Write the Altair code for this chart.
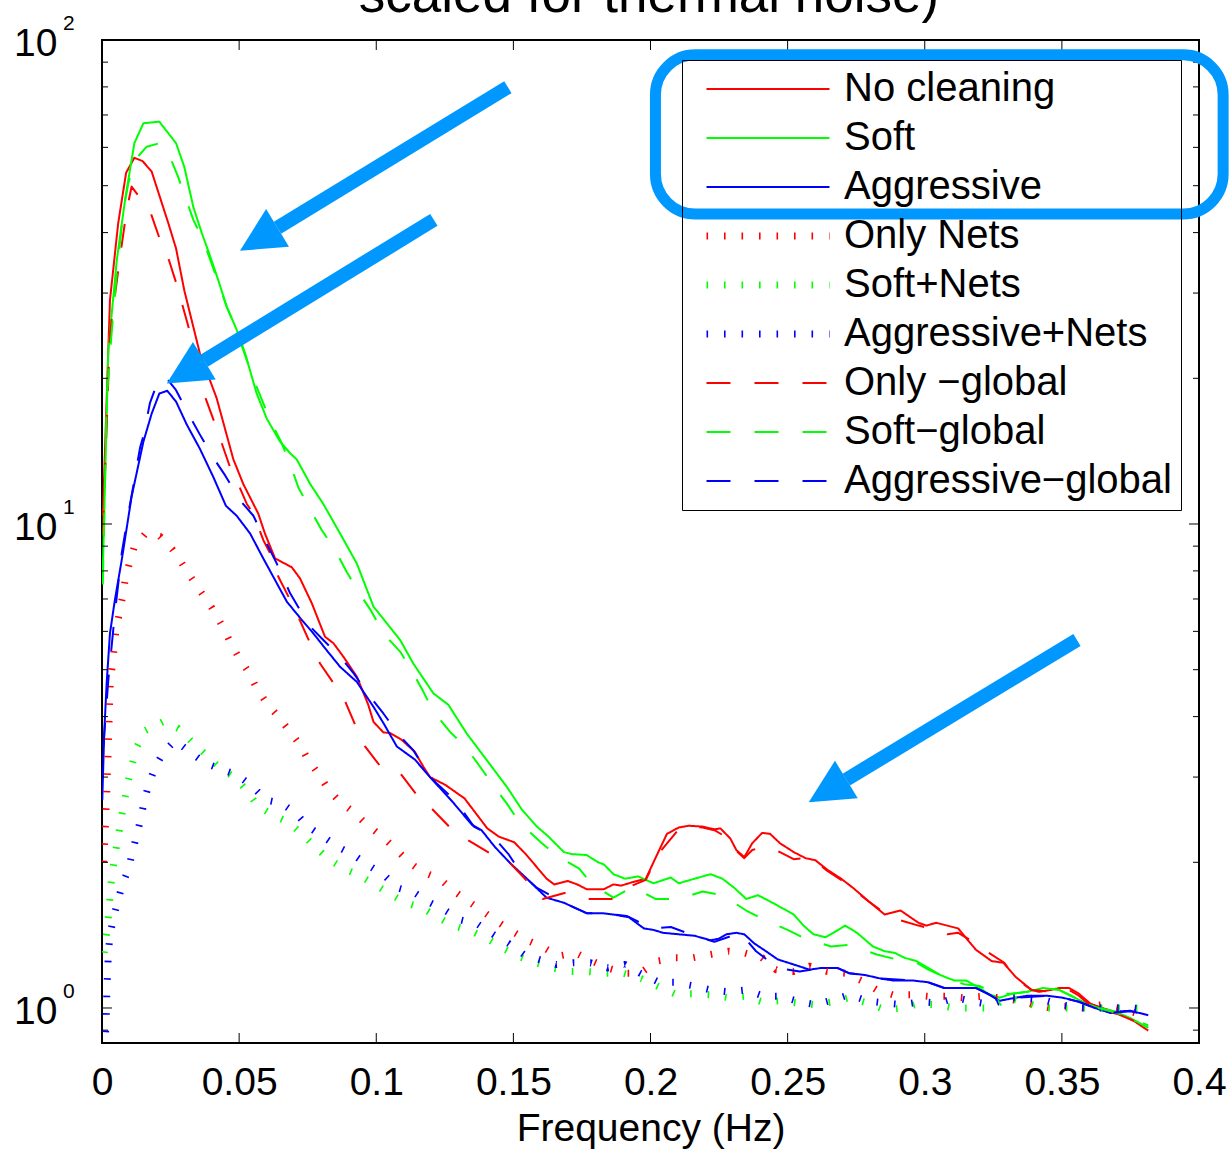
import math
import altair as alt
import pandas as pd

FONT = "Liberation Sans"
HL = "#0098ff"

NAMES = ["No cleaning", "Soft", "Aggressive",
         "Only Nets", "Soft+Nets", "Aggressive+Nets",
         "Only \u2212global", "Soft\u2212global", "Aggressive\u2212global"]
COLORS = ["#ff0000", "#00ff00", "#0000ff"] * 3
TITLE = ["scaled for thermal noise)"]

XTICKS = [0, 0.05, 0.1, 0.15, 0.2, 0.25, 0.3, 0.35, 0.4]
YMAJOR = [1, 10, 100]
YMINOR = [0.9, 2, 3, 4, 5, 6, 7, 8, 9, 20, 30, 40, 50, 60, 70, 80, 90]
YEXP = ["0", "1", "2"]

RED_SOLID = [(0.0003,10.4),(0.0029,29.0),(0.0059,41.8),(0.0088,53.2),(0.0118,57.1),(0.0148,56.2),(0.0181,53.5),(0.0242,41.8),(0.027,37.1),(0.030,30.4),(0.0357,22.5),(0.0418,18.2),(0.0479,13.6),(0.0515,12.1),(0.057,10.5),(0.0594,9.56),(0.0631,8.49),(0.0692,8.14),(0.0722,7.72),(0.0765,6.86),(0.0813,5.85),(0.0844,5.67),(0.088,5.32),(0.0929,4.84),(0.0971,4.23),(0.099,3.90),(0.1026,3.71),(0.105,3.70),(0.1093,3.58),(0.1141,3.38),(0.1172,3.15),(0.1196,3.0),(0.1252,2.89),(0.1322,2.71),(0.1405,2.35),(0.1447,2.26),(0.1503,2.20),(0.1545,2.08),(0.1621,1.85),(0.1649,1.80),(0.1698,1.83),(0.1733,1.80),(0.1767,1.76),(0.183,1.76),(0.1865,1.80),(0.1893,1.79),(0.1935,1.82),(0.1983,1.85),(0.2025,2.08),(0.206,2.29),(0.2103,2.36),(0.2139,2.38),(0.219,2.37),(0.2233,2.34),(0.2255,2.35),(0.2291,2.24),(0.2313,2.12),(0.2342,2.05),(0.2371,2.19),(0.2407,2.30),(0.2436,2.29),(0.2472,2.19),(0.2522,2.10),(0.2565,2.04),(0.2601,2.02),(0.2645,1.93),(0.2695,1.85),(0.2739,1.77),(0.2796,1.66),(0.2854,1.56),(0.2912,1.59),(0.2977,1.50),(0.3006,1.48),(0.3042,1.50),(0.3122,1.46),(0.3186,1.32),(0.3244,1.25),(0.3287,1.24),(0.3331,1.16),(0.3389,1.09),(0.3418,1.08),(0.3461,1.09),(0.349,1.10),(0.3526,1.10),(0.3562,1.07),(0.3605,1.02),(0.3648,1.0),(0.3706,0.976),(0.3764,0.939),(0.3815,0.898)]

GREEN_SOLID = [(0.0003,8.0),(0.0023,22.9),(0.0054,35.1),(0.0084,46.7),(0.0118,61.2),(0.0151,67.3),(0.0209,67.8),(0.027,61.2),(0.030,54.7),(0.0333,45.2),(0.0364,39.9),(0.0391,36.2),(0.0424,31.9),(0.0455,28.1),(0.0491,25.2),(0.0522,22.5),(0.0564,18.6),(0.0601,16.5),(0.0649,14.8),(0.0686,14.0),(0.071,13.6),(0.0759,12.1),(0.0807,11.0),(0.0868,9.56),(0.0929,8.29),(0.099,6.75),(0.1087,5.76),(0.1135,5.15),(0.1208,4.47),(0.1263,4.23),(0.133,3.69),(0.1379,3.39),(0.1405,3.24),(0.1475,2.87),(0.1531,2.57),(0.1586,2.37),(0.1628,2.26),(0.1684,2.10),(0.1712,2.08),(0.1767,2.07),(0.1809,2.00),(0.183,1.98),(0.1865,1.89),(0.1907,1.85),(0.1955,1.87),(0.2011,1.81),(0.2074,1.86),(0.2103,1.81),(0.2161,1.85),(0.2219,1.89),(0.2262,1.85),(0.2306,1.77),(0.2349,1.68),(0.2392,1.71),(0.2436,1.66),(0.2479,1.61),(0.2522,1.56),(0.2558,1.48),(0.2594,1.42),(0.2637,1.40),(0.2667,1.43),(0.271,1.48),(0.2753,1.43),(0.2811,1.34),(0.2854,1.31),(0.289,1.30),(0.2926,1.27),(0.297,1.25),(0.3013,1.21),(0.3056,1.17),(0.3107,1.14),(0.315,1.14),(0.3201,1.10),(0.323,1.07),(0.3273,1.05),(0.3317,1.07),(0.3374,1.08),(0.3432,1.10),(0.349,1.09),(0.3533,1.06),(0.3591,1.02),(0.3634,1.0),(0.3692,0.984),(0.375,0.953),(0.3815,0.91)]

BLUE_SOLID = [(0.0001,2.69),(0.0008,3.69),(0.0017,4.69),(0.0029,5.94),(0.0047,6.97),(0.0072,8.43),(0.0108,11.4),(0.0151,14.8),(0.0181,16.9),(0.0209,18.6),(0.0238,18.85),(0.027,17.9),(0.0309,16.05),(0.0357,14.3),(0.0406,12.5),(0.0452,10.9),(0.0491,10.4),(0.054,9.56),(0.0588,8.49),(0.0631,7.66),(0.0674,6.91),(0.0728,6.34),(0.0771,5.94),(0.0813,5.54),(0.0868,5.07),(0.0929,4.72),(0.099,4.19),(0.1026,3.88),(0.1075,3.47),(0.1141,3.26),(0.1196,3.0),(0.128,2.66),(0.1349,2.39),(0.1384,2.33),(0.1433,2.15),(0.1489,1.99),(0.1545,1.86),(0.1621,1.69),(0.1684,1.65),(0.1767,1.57),(0.1823,1.57),(0.1865,1.56),(0.1921,1.54),(0.1976,1.46),(0.2011,1.45),(0.2046,1.43),(0.2103,1.42),(0.2161,1.41),(0.2219,1.38),(0.2248,1.39),(0.2277,1.42),(0.2313,1.43),(0.2342,1.42),(0.2378,1.36),(0.2421,1.31),(0.2464,1.26),(0.2522,1.23),(0.258,1.20),(0.2623,1.21),(0.2681,1.21),(0.2724,1.18),(0.2782,1.17),(0.284,1.15),(0.2883,1.14),(0.2956,1.14),(0.3013,1.13),(0.3071,1.10),(0.31,1.10),(0.3143,1.10),(0.3186,1.10),(0.323,1.07),(0.3273,1.035),(0.3331,1.05),(0.3374,1.06),(0.3446,1.06),(0.3504,1.05),(0.3562,1.03),(0.362,1.00),(0.3678,0.976),(0.3706,0.984),(0.375,0.987),(0.3815,0.966)]

RED_DOT = [(0.0006,2.0),(0.0013,2.42),(0.0018,2.86),(0.0021,3.2),(0.0026,3.97),(0.003,4.68),(0.0037,5.08),(0.0044,5.52),(0.005,5.98),(0.0062,6.49),(0.0074,7.03),(0.0084,7.64),(0.01,8.30),(0.0118,8.98),(0.0159,9.56),(0.0211,9.43),(0.0256,8.87),(0.0291,8.30),(0.0327,7.72),(0.0364,7.19),(0.04,6.72),(0.0437,6.18),(0.0467,5.71),(0.0497,5.32),(0.0534,4.95),(0.0564,4.58),(0.0601,4.26),(0.0643,4.00),(0.0686,3.72),(0.0722,3.50),(0.0751,3.26),(0.0792,3.03),(0.0827,2.82),(0.0869,2.66),(0.0918,2.54),(0.0966,2.39),(0.1022,2.26),(0.1071,2.13),(0.112,2.00),(0.1168,1.91),(0.1231,1.85),(0.128,1.75),(0.1336,1.66),(0.1384,1.59),(0.144,1.51),(0.1496,1.44),(0.1551,1.38),(0.1614,1.33),(0.1663,1.28),(0.1726,1.30),(0.1788,1.25),(0.1844,1.21),(0.1907,1.18),(0.1962,1.18),(0.2025,1.25),(0.2089,1.27),(0.2154,1.27),(0.2219,1.29),(0.2284,1.31),(0.2342,1.30),(0.2407,1.27),(0.2457,1.20),(0.2522,1.19),(0.258,1.22),(0.2645,1.19),(0.271,1.18),(0.2768,1.14),(0.2825,1.09),(0.2883,1.065),(0.2948,1.065),(0.3013,1.057),(0.3078,1.057),(0.3143,1.05),(0.3208,1.057),(0.3273,1.05),(0.3345,1.035),(0.3396,1.016),(0.3461,1.0),(0.3526,1.008),(0.3584,1.0),(0.3648,1.016),(0.3706,1.0),(0.3771,0.976),(0.3815,0.97)]

GREEN_DOT = [(0.0008,1.30),(0.0016,1.42),(0.0023,1.54),(0.0028,1.67),(0.0033,1.81),(0.0041,1.96),(0.0051,2.13),(0.0062,2.31),(0.0072,2.50),(0.0084,2.72),(0.0096,2.95),(0.0111,3.20),(0.0127,3.46),(0.0157,3.74),(0.0224,3.91),(0.0278,3.78),(0.0327,3.55),(0.038,3.33),(0.043,3.13),(0.0486,2.99),(0.0527,2.82),(0.0569,2.61),(0.0625,2.50),(0.0681,2.42),(0.0729,2.29),(0.0778,2.15),(0.0827,2.03),(0.0882,1.94),(0.0938,1.88),(0.0994,1.80),(0.105,1.72),(0.1106,1.65),(0.1168,1.61),(0.1224,1.54),(0.128,1.48),(0.1349,1.44),(0.1405,1.39),(0.1461,1.33),(0.1517,1.28),(0.158,1.24),(0.1642,1.21),(0.1705,1.19),(0.1767,1.19),(0.1837,1.18),(0.19,1.18),(0.1966,1.15),(0.2024,1.11),(0.2089,1.07),(0.2154,1.07),(0.2219,1.065),(0.2284,1.05),(0.2342,1.057),(0.2407,1.03),(0.2472,1.035),(0.2536,1.024),(0.2601,1.016),(0.2667,1.03),(0.2724,1.05),(0.2789,1.024),(0.2854,0.992),(0.2919,1.0),(0.2977,1.02),(0.3042,1.016),(0.3107,1.0),(0.3172,1.0),(0.3237,1.0),(0.3302,1.05),(0.336,1.03),(0.3425,1.0),(0.349,1.0),(0.3555,1.0),(0.362,1.0),(0.3685,1.0),(0.375,1.0),(0.3815,1.0)]

BLUE_DOT = [(0.001,0.82),(0.0015,0.94),(0.0017,1.02),(0.0018,1.11),(0.0021,1.20),(0.0023,1.30),(0.0029,1.41),(0.0041,1.53),(0.0074,1.80),(0.0096,1.93),(0.0111,2.10),(0.0127,2.28),(0.0142,2.47),(0.0154,2.68),(0.0171,2.90),(0.0193,3.14),(0.0224,3.37),(0.0266,3.57),(0.0318,3.39),(0.0374,3.21),(0.0437,3.11),(0.0493,3.03),(0.0549,2.87),(0.0597,2.69),(0.0653,2.65),(0.0709,2.52),(0.0751,2.37),(0.0806,2.26),(0.0862,2.15),(0.0918,2.07),(0.0973,1.97),(0.1029,1.88),(0.1078,1.77),(0.114,1.73),(0.1196,1.65),(0.1252,1.59),(0.1308,1.52),(0.137,1.49),(0.1426,1.42),(0.1482,1.36),(0.1538,1.29),(0.1593,1.26),(0.1656,1.23),(0.1719,1.24),(0.1782,1.24),(0.1844,1.21),(0.1907,1.23),(0.1962,1.18),(0.2031,1.13),(0.2089,1.13),(0.2161,1.11),(0.2219,1.09),(0.2284,1.08),(0.2349,1.09),(0.2414,1.057),(0.2476,1.057),(0.2544,1.03),(0.2601,1.016),(0.2667,1.04),(0.2724,1.065),(0.2789,1.035),(0.2854,1.024),(0.2919,1.016),(0.2984,1.03),(0.3049,1.024),(0.3114,1.05),(0.3179,1.03),(0.3244,1.016),(0.3302,1.05),(0.3367,1.05),(0.3432,1.04),(0.3497,1.016),(0.3562,1.0),(0.3627,1.0),(0.3692,1.0),(0.3757,1.0),(0.3815,0.99)]

RED_DASH = [(0.0003,9.5),(0.0029,24.8),(0.0066,35.7),(0.009,44.5),(0.0108,49.8),(0.0135,47.5),(0.0179,43.7),(0.0212,38.6),(0.0244,35.1),(0.0275,30.9),(0.0318,25.2),(0.0339,22.5),(0.0376,18.3),(0.0412,16.1),(0.0467,13.1),(0.0491,12.3),(0.0528,11.0),(0.0552,10.5),(0.0588,9.27),(0.0619,8.56),(0.0643,7.78),(0.0674,7.19),(0.071,6.54),(0.0759,5.67),(0.0795,5.15),(0.0844,4.69),(0.0874,4.47),(0.0892,4.23),(0.0929,3.78),(0.0959,3.47),(0.102,3.13),(0.1057,3.08),(0.1092,3.03),(0.1147,2.76),(0.1175,2.61),(0.1203,2.58),(0.1266,2.37),(0.1336,2.22),(0.1419,2.08),(0.1454,2.02),(0.1489,1.99),(0.1538,1.86),(0.1607,1.68),(0.1691,1.73),(0.1726,1.71),(0.1767,1.68),(0.1858,1.68),(0.1923,1.78),(0.1983,1.84),(0.2031,2.09),(0.2103,2.34),(0.2139,2.37),(0.219,2.36),(0.2233,2.33),(0.2291,2.23),(0.2313,2.11),(0.2342,2.04),(0.2371,2.12),(0.2407,2.15),(0.2436,2.13),(0.2472,2.10),(0.2522,2.03),(0.2565,2.04),(0.2601,2.01),(0.2645,1.92),(0.2695,1.84),(0.2739,1.76),(0.2796,1.66),(0.2854,1.57),(0.2907,1.52),(0.2977,1.48),(0.3042,1.45),(0.3082,1.42),(0.3122,1.43),(0.3186,1.36),(0.3225,1.31),(0.329,1.24),(0.3331,1.15),(0.3389,1.09),(0.3461,1.08),(0.3526,1.09),(0.3562,1.06),(0.3605,1.01),(0.3648,0.99),(0.3706,0.97),(0.3764,0.94),(0.3815,0.90)]

GREEN_DASH = [(0.0003,7.5),(0.0017,18.0),(0.0035,24.8),(0.0054,33.0),(0.0078,44.5),(0.0096,50.6),(0.012,56.5),(0.0163,60.2),(0.0209,61.2),(0.0238,59.1),(0.0275,52.6),(0.0303,47.5),(0.0333,42.5),(0.0369,38.6),(0.0412,33.0),(0.0455,28.1),(0.0485,25.6),(0.0528,21.8),(0.0564,19.2),(0.0613,16.4),(0.0655,14.7),(0.0686,13.3),(0.0716,11.9),(0.0752,10.9),(0.0801,9.72),(0.085,8.84),(0.0892,7.97),(0.0935,7.25),(0.0983,6.59),(0.1026,5.94),(0.1087,5.45),(0.1129,4.99),(0.1172,4.50),(0.1208,4.10),(0.1269,3.72),(0.133,3.44),(0.1391,3.08),(0.1419,2.92),(0.1475,2.65),(0.1524,2.41),(0.16,2.20),(0.1656,2.07),(0.174,1.94),(0.1788,1.80),(0.1865,1.69),(0.1935,1.78),(0.2018,1.68),(0.2103,1.68),(0.219,1.74),(0.2262,1.71),(0.2349,1.59),(0.2407,1.53),(0.25,1.45),(0.2565,1.39),(0.2659,1.34),(0.2724,1.35),(0.2825,1.29),(0.2897,1.26),(0.297,1.24),(0.3013,1.20),(0.3085,1.15),(0.3143,1.12),(0.3201,1.11),(0.3259,1.07),(0.3317,1.07),(0.3374,1.08),(0.3432,1.10),(0.349,1.09),(0.3533,1.06),(0.3591,1.02),(0.3634,1.0),(0.3692,0.98),(0.375,0.955),(0.3815,0.92)]

BLUE_DASH = [(0.0005,3.47),(0.0023,4.76),(0.0047,6.54),(0.0072,8.70),(0.0096,10.5),(0.012,12.5),(0.0139,14.4),(0.0151,15.2),(0.0175,17.8),(0.0205,19.8),(0.023,20.2),(0.027,18.9),(0.0315,16.9),(0.0357,15.3),(0.0406,13.7),(0.0449,12.6),(0.0503,11.2),(0.0552,10.4),(0.0588,9.42),(0.0637,8.29),(0.0686,7.19),(0.0722,6.64),(0.0759,6.14),(0.0807,5.76),(0.0868,5.32),(0.0917,4.92),(0.0977,4.40),(0.1026,4.06),(0.1087,3.64),(0.1135,3.41),(0.1196,3.0),(0.1294,2.66),(0.1356,2.37),(0.1426,2.26),(0.1482,2.08),(0.1531,1.89),(0.1586,1.77),(0.1684,1.65),(0.1767,1.57),(0.1823,1.57),(0.1913,1.55),(0.2004,1.46),(0.2074,1.47),(0.2161,1.41),(0.2233,1.37),(0.2327,1.43),(0.2385,1.31),(0.2464,1.21),(0.2544,1.19),(0.2623,1.21),(0.2681,1.21),(0.2724,1.18),(0.2782,1.17),(0.284,1.15),(0.2956,1.14),(0.3013,1.13),(0.3071,1.10),(0.3143,1.10),(0.3186,1.10),(0.323,1.07),(0.3273,1.035),(0.3331,1.05),(0.3446,1.06),(0.3504,1.05),(0.3562,1.03),(0.362,1.0),(0.3678,0.976),(0.375,0.985),(0.3815,0.965)]

SERIES = [RED_SOLID, GREEN_SOLID, BLUE_SOLID, RED_DOT, GREEN_DOT, BLUE_DOT,
          RED_DASH, GREEN_DASH, BLUE_DASH]

# annotation arrows (tail -> tip) and highlight box, in data units
ARROW_TAIL = [(0.148, 79.9), (0.121, 42.5), (0.3555, 5.76)]
ARROW_TIP = [(0.0503, 36.7), (0.0236, 19.5), (0.2577, 2.66)]
HIGHLIGHT_F = [0.2018, 0.4088]
HIGHLIGHT_V = [93.2, 43.7]

# ---------------------------------------------------------------- tables
rows = []
for k, (name, pts) in enumerate(zip(NAMES, SERIES)):
    for f, v in pts:
        rows.append({"series": name, "f": f, "v": v, "k": k})
df = pd.DataFrame(rows)

shafts = []
heads = []
for (tf, tv), (hf, hv) in zip(ARROW_TAIL, ARROW_TIP):
    t = 0.86
    ef = tf + t * (hf - tf)
    ev = 10 ** (math.log10(tv) + t * (math.log10(hv) - math.log10(tv)))
    shafts.append({"f": tf, "v": tv, "f2": ef, "v2": ev})
    heads.append({"f": hf, "v": hv})
shaft_df = pd.DataFrame(shafts)
head_df = pd.DataFrame(heads)
hl_df = pd.DataFrame([{"f": HIGHLIGHT_F[0], "f2": HIGHLIGHT_F[1],
                       "v": HIGHLIGHT_V[0], "v2": HIGHLIGHT_V[1]}])

xt_df = pd.DataFrame({"f": XTICKS})
ymaj_df = pd.DataFrame({"v": YMAJOR, "e": YEXP, "b": ["10"] * 3})
ymin_df = pd.DataFrame({"v": YMINOR})
title_df = pd.DataFrame({"t": TITLE})

W, H = 1097, 1003
xs = alt.Scale(domain=[0, 0.4], nice=False, zero=False)
ys = alt.Scale(type="log", domain=[0.8466, 100], nice=False)
XAXIS = alt.Axis(
    values=XTICKS, format="~g", ticks=False, tickSize=0, domain=False, grid=False,
    labelFontSize=39, labelFont=FONT, labelColor="black", labelPadding=20,
    labelBaseline="top", labelFlush=False, labelOverlap=False,
    title="Frequency (Hz)", titleFontSize=39, titleFont=FONT, titleFontWeight="normal",
    titleColor="black", titleBaseline="alphabetic", titleY=97)
X = lambda: alt.X("f:Q", scale=xs, axis=XAXIS)
Y = lambda: alt.Y("v:Q", scale=ys, axis=None)

DASHES = [[1, 0]] * 3 + [[1.6, 15.9]] * 3 + [[24, 24]] * 3
WIDTHS = [2] * 3 + [7] * 3 + [2] * 3

lines = alt.Chart(df).mark_line(clip=True, strokeCap="butt", strokeJoin="round").encode(
    x=X(),
    y=Y(),
    color=alt.Color("series:N", scale=alt.Scale(domain=NAMES, range=COLORS),
                    legend=alt.Legend(
                        title=None, orient="none", legendX=580, legendY=20,
                        symbolType="stroke", symbolSize=15129, symbolOffset=12,
                        clipHeight=40,
                        labelFontSize=40, labelFont=FONT, labelColor="black",
                        labelOffset=11, labelLimit=0, rowPadding=9, padding=9,
                        strokeColor="black", zindex=0)),
    strokeDash=alt.StrokeDash("series:N", scale=alt.Scale(domain=NAMES, range=DASHES)),
    strokeWidth=alt.StrokeWidth("series:N", scale=alt.Scale(type="ordinal", domain=NAMES, range=WIDTHS)),
    detail="series:N",
)

tick_b = alt.Chart(xt_df).mark_rule(color="black", strokeWidth=1).encode(
    x=X(), y=alt.value(H), y2=alt.value(H - 10))
tick_t = alt.Chart(xt_df).mark_rule(color="black", strokeWidth=1).encode(
    x=X(), y=alt.value(0), y2=alt.value(10))
tick_lmaj = alt.Chart(ymaj_df).mark_rule(color="black", strokeWidth=1).encode(
    y=Y(), x=alt.value(0), x2=alt.value(10))
tick_rmaj = alt.Chart(ymaj_df).mark_rule(color="black", strokeWidth=1).encode(
    y=Y(), x=alt.value(W), x2=alt.value(W - 10))
tick_lmin = alt.Chart(ymin_df).mark_rule(color="black", strokeWidth=1).encode(
    y=Y(), x=alt.value(0), x2=alt.value(6))
tick_rmin = alt.Chart(ymin_df).mark_rule(color="black", strokeWidth=1).encode(
    y=Y(), x=alt.value(W), x2=alt.value(W - 6))

ylab = alt.Chart(ymaj_df).mark_text(align="right", baseline="middle", fontSize=39,
                                    font=FONT, color="black", dy=4).encode(
    y=Y(), x=alt.value(-44.6), text="b:N")
yexp = alt.Chart(ymaj_df).mark_text(align="left", baseline="alphabetic", fontSize=21,
                                    font=FONT, color="black", dy=-10).encode(
    y=Y(), x=alt.value(-39), text="e:N")

title = alt.Chart(title_df).mark_text(align="center", baseline="alphabetic", fontSize=53,
                                      font=FONT, color="black").encode(
    x=alt.value(547), y=alt.value(-28), text="t:N")

shaft = alt.Chart(shaft_df).mark_rule(color=HL, strokeWidth=14, strokeCap="butt").encode(
    x=X(), y=Y(), x2="f2:Q", y2="v2:Q")
head = alt.Chart(head_df).mark_point(
    shape="M0,0L0.5,1L-0.5,1Z", size=7744, angle=238.75, filled=True,
    color=HL, opacity=1, strokeWidth=0).encode(x=X(), y=Y())
hlbox = alt.Chart(hl_df).mark_rect(cornerRadius=40, stroke=HL, strokeWidth=11,
                                   fill="white", fillOpacity=0).encode(
    x=X(), x2="f2:Q", y=Y(), y2="v2:Q")

chart = alt.layer(
    lines, tick_b, tick_t, tick_lmaj, tick_rmaj, tick_lmin, tick_rmin,
    ylab, yexp, title, shaft, head, hlbox
).properties(
    width=W, height=H,
    padding={"left": 102, "top": 40, "right": 32, "bottom": 106},
    autosize=alt.AutoSizeParams(type="none"),
).configure(font=FONT).configure_view(stroke="black", strokeWidth=2)

chart.save("out.html", embed_options={"renderer": "svg", "actions": False})
